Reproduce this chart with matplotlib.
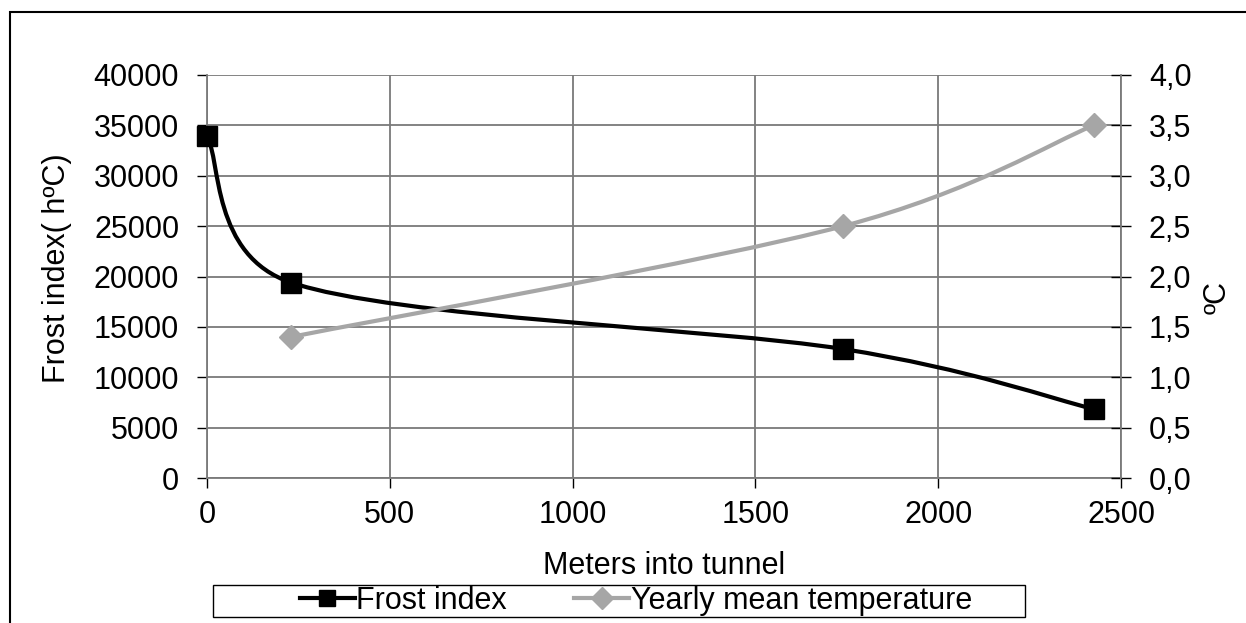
import numpy as np
import matplotlib
matplotlib.use("Agg")
import matplotlib.pyplot as plt
from matplotlib.path import Path
from matplotlib.patches import PathPatch, Rectangle
from matplotlib.lines import Line2D
from matplotlib.ticker import FuncFormatter

plt.rcParams['font.family'] = ['Liberation Sans', 'DejaVu Sans']

# Data
frost_x = [0, 230, 1740, 2425]
frost_y = [33950, 19400, 12800, 6850]
temp_x = [230, 1740, 2425]
temp_y = [1.40, 2.50, 3.50]
x_ticks = [0, 500, 1000, 1500, 2000, 2500]
left_ticks = [0, 5000, 10000, 15000, 20000, 25000, 30000, 35000, 40000]
right_ticks = [0.0, 0.5, 1.0, 1.5, 2.0, 2.5, 3.0, 3.5, 4.0]

W, H = 1246, 623
fig = plt.figure(figsize=(W / 100, H / 100), dpi=100)
L, R, T, B = 207, 1121, 75, 478
ax = fig.add_axes([L / W, 1 - B / H, (R - L) / W, (B - T) / H])
ax2 = ax.twinx()

ax.set_xlim(0, 2500)
ax.set_ylim(0, 40000)
ax2.set_ylim(0, 4)

FS = 22
grid_c = '#7a7a7a'


def smooth_path(xs, ys, xr, yr):
    # Excel-like smoothed line: cubic Bezier, control points in pixel space,
    # tangent = (next - prev)/6, capped at half of the segment length
    px = np.array(xs, float) / xr * (R - L)
    py = np.array(ys, float) / yr * (B - T)
    P = np.column_stack([px, py])
    n = len(P)
    verts = [tuple(P[0])]
    codes = [Path.MOVETO]

    def ctrl(prev, cur, nxt, seg_len):
        v = nxt - prev
        d = np.hypot(*v)
        if d == 0:
            return np.zeros(2)
        f = 1.0 / 6.0
        if d * f > seg_len / 2.0:
            f = seg_len / (2.0 * d)
        return v * f

    for i in range(n - 1):
        p0 = P[max(i - 1, 0)]
        p1 = P[i]
        p2 = P[i + 1]
        p3 = P[min(i + 2, n - 1)]
        seg = np.hypot(*(p2 - p1))
        c1 = p1 + ctrl(p0, p1, p2, seg)
        c2 = p2 - ctrl(p1, p2, p3, seg)
        verts += [tuple(c1), tuple(c2), tuple(p2)]
        codes += [Path.CURVE4] * 3
    verts = [(vx / (R - L) * xr, vy / (B - T) * yr) for vx, vy in verts]
    return Path(verts, codes)


fp = smooth_path(frost_x, frost_y, 2500, 40000)
ax.add_patch(PathPatch(fp, facecolor='none', edgecolor='black', lw=3.0, zorder=3,
                       capstyle='round', clip_on=False))
ax.plot(frost_x, frost_y, linestyle='none', marker='s', markersize=14, color='black',
        zorder=4, clip_on=False)

tp = smooth_path(temp_x, temp_y, 2500, 4)
ax2.add_patch(PathPatch(tp, facecolor='none', edgecolor='#a6a6a6', lw=3.0, zorder=3,
                        capstyle='round', clip_on=False))
ax2.plot(temp_x, temp_y, linestyle='none', marker='D', markersize=12, color='#a6a6a6',
         zorder=4, clip_on=False)

# grid
ax.set_xticks(x_ticks)
ax.set_yticks(left_ticks)
ax2.set_yticks(right_ticks)
ax.grid(True, color=grid_c, lw=1.3)
ax.set_axisbelow(True)

ax.spines['top'].set_visible(False)
ax2.spines['top'].set_visible(False)
ax.spines['right'].set_visible(False)
ax2.spines['left'].set_visible(False)
ax2.spines['bottom'].set_visible(False)
for sp in [ax.spines['left'], ax.spines['bottom'], ax2.spines['right']]:
    sp.set_color(grid_c)
    sp.set_linewidth(1.3)

ax.tick_params(axis='y', labelsize=FS, length=7, width=1.0, color='black', pad=13)
ax.tick_params(axis='x', labelsize=FS, length=7, width=1.0, color='black', pad=9)
ax2.tick_params(axis='y', labelsize=FS, direction='inout', length=14, width=1.0,
                color='black', pad=13)
ax2.yaxis.set_major_formatter(FuncFormatter(lambda v, p: f"{v:.1f}".replace('.', ',')))

ax.set_xlabel('Meters into tunnel', fontsize=FS, labelpad=15)
ax.set_ylabel('Frost index( hºC)', fontsize=FS)
ax.yaxis.set_label_coords(-0.148, 0.52)
ax2.set_ylabel('ºC', fontsize=FS)
ax2.yaxis.set_label_coords(1.089, 0.447)

# legend
handles = [
    Line2D([], [], color='black', lw=3, marker='s', markersize=12),
    Line2D([], [], color='#a6a6a6', lw=3, marker='D', markersize=11),
]
leg = fig.legend(handles, ['Frost index', 'Yearly mean temperature'], loc='center',
                 bbox_to_anchor=(636 / W, 1 - 601 / H), ncol=2, fontsize=FS,
                 frameon=False, handlelength=1.8,
                 handletextpad=0.05, columnspacing=2.2, borderpad=0.1,
                 borderaxespad=0)
fig.add_artist(Rectangle((213 / W, 1 - 617 / H), (1025 - 213) / W, 32 / H,
                         transform=fig.transFigure, facecolor='none',
                         edgecolor='black', lw=1.0))

# outer border
fig.add_artist(Rectangle((10 / W, -0.1), 1.2, 1 - 12 / H + 0.1, transform=fig.transFigure,
                         facecolor='none', edgecolor='black', lw=1.5, clip_on=False))

fig.savefig('out.png', dpi=100)
